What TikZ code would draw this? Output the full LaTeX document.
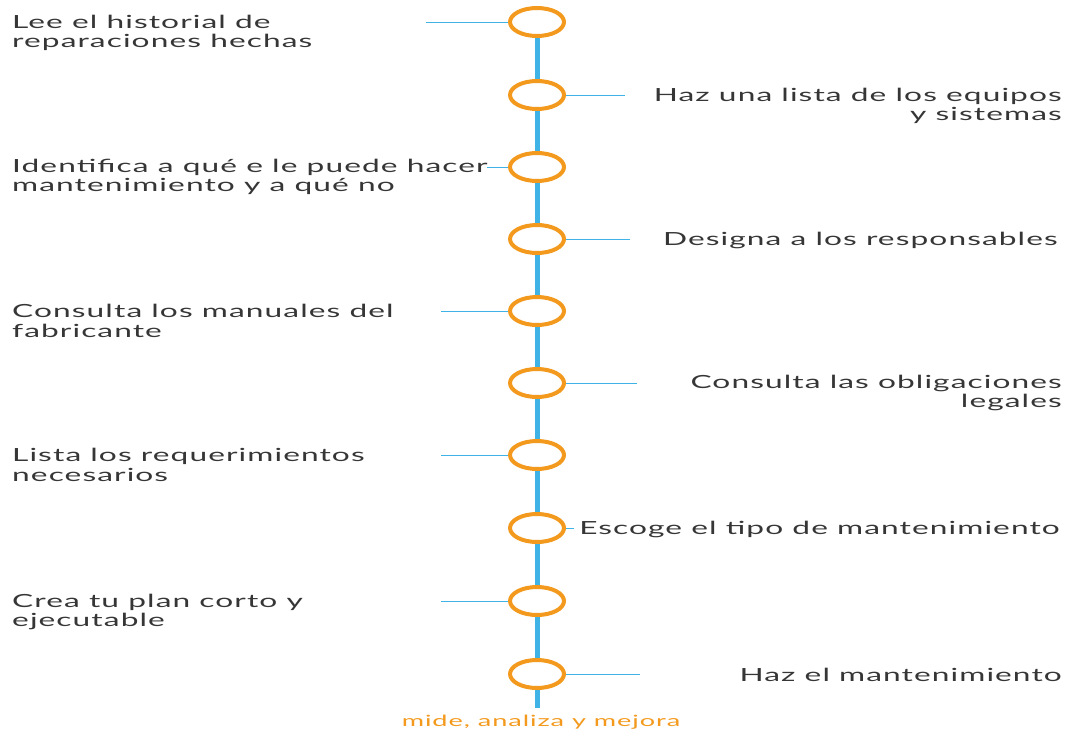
\documentclass[tikz,border=0pt]{standalone}
\usepackage{fontspec}
\setmainfont{Lato}[FakeStretch=1.75,LetterSpace=6]
\usetikzlibrary{positioning,shapes.geometric}
\definecolor{tlblue}{HTML}{3FB2E6}
\definecolor{tlorange}{HTML}{F39A1E}
\definecolor{tltext}{HTML}{363636}
\tikzset{hito/.style={ellipse,draw=tlorange,line width=4pt,fill=white,
        minimum width=54pt,minimum height=28pt,inner sep=0pt}}
\tikzset{spine/.style={draw=tlblue,line width=5pt}}
\tikzset{link/.style={draw=tlblue,line width=0.8pt}}
\tikzset{paso/.style={text=tltext,font=\fontsize{18.1}{19.5}\selectfont,inner sep=0pt}}
\tikzset{pasoL/.style={paso,anchor=west,align=left}}
\tikzset{pasoR/.style={paso,anchor=east,align=right}}

\begin{document}
\begin{tikzpicture}[x=1pt,y=-1pt]
                    \useasboundingbox (0,0) rectangle (1071,734);
                    % eje del tiempo
                    \coordinate (top) at (537,22);
                    \coordinate (end) at (537,708);
                    \draw[spine] (top) -- (end);
                    % hitos
                    \node[hito] (c1)  at (537,22)  {};
                    \node[hito] (c2)  at (537,95)  {};
                    \node[hito] (c3)  at (537,167) {};
                    \node[hito] (c4)  at (537,239) {};
                    \node[hito] (c5)  at (537,311) {};
                    \node[hito] (c6)  at (537,383) {};
                    \node[hito] (c7)  at (537,455) {};
                    \node[hito] (c8)  at (537,528) {};
                    \node[hito] (c9)  at (537,601) {};
                    \node[hito] (c10) at (537,674) {};
                    % pasos
                    \node[pasoL] (t1)  at (12,33)   {Lee el historial de\\reparaciones hechas};
                    \node[pasoR] (t2)  at (1062,106) {Haz una lista de los equipos\\y sistemas};
                    \node[pasoL] (t3)  at (12,177)  {Identifica a qué e le puede hacer\\mantenimiento y a qué no};
                    \node[pasoR] (t4)  at (1058,240) {Designa a los responsables};
                    \node[pasoL] (t5)  at (12,321)  {Consulta los manuales del\\fabricante};
                    \node[pasoR] (t6)  at (1062,393) {Consulta las obligaciones\\legales};
                    \node[pasoL] (t7)  at (12,465)  {Lista los requerimientos\\necesarios};
                    \node[pasoR] (t8)  at (1060,529) {Escoge el tipo de mantenimiento};
                    \node[pasoL] (t9)  at (12,612)  {Crea tu plan corto y\\ejecutable};
                    \node[pasoR] (t10) at (1062,675) {Haz el mantenimiento};
                    \node[text=tlorange,font=\fontsize{15.5}{16}\selectfont] (fin) at (541,722) {mide, analiza y mejora};
                    % enlaces
                    \coordinate (l1) at (426,22);
                    \coordinate (r2) at (625,95);
                    \coordinate (l3) at (487,167);
                    \coordinate (r4) at (630,239);
                    \coordinate (l5) at (441,311);
                    \coordinate (r6) at (637,383);
                    \coordinate (l7) at (441,455);
                    \coordinate (r8) at (574,528);
                    \coordinate (l9) at (441,601);
                    \coordinate (r10) at (640,674);
                    \path[link]
                        (l1) edge (c1)
                        (c2) edge (r2)
                        (l3) edge (c3)
                        (c4) edge (r4)
                        (l5) edge (c5)
                        (c6) edge (r6)
                        (l7) edge (c7)
                        (c8) edge (r8)
                        (l9) edge (c9)
                        (c10) edge (r10);
                \end{tikzpicture}
\end{document}
